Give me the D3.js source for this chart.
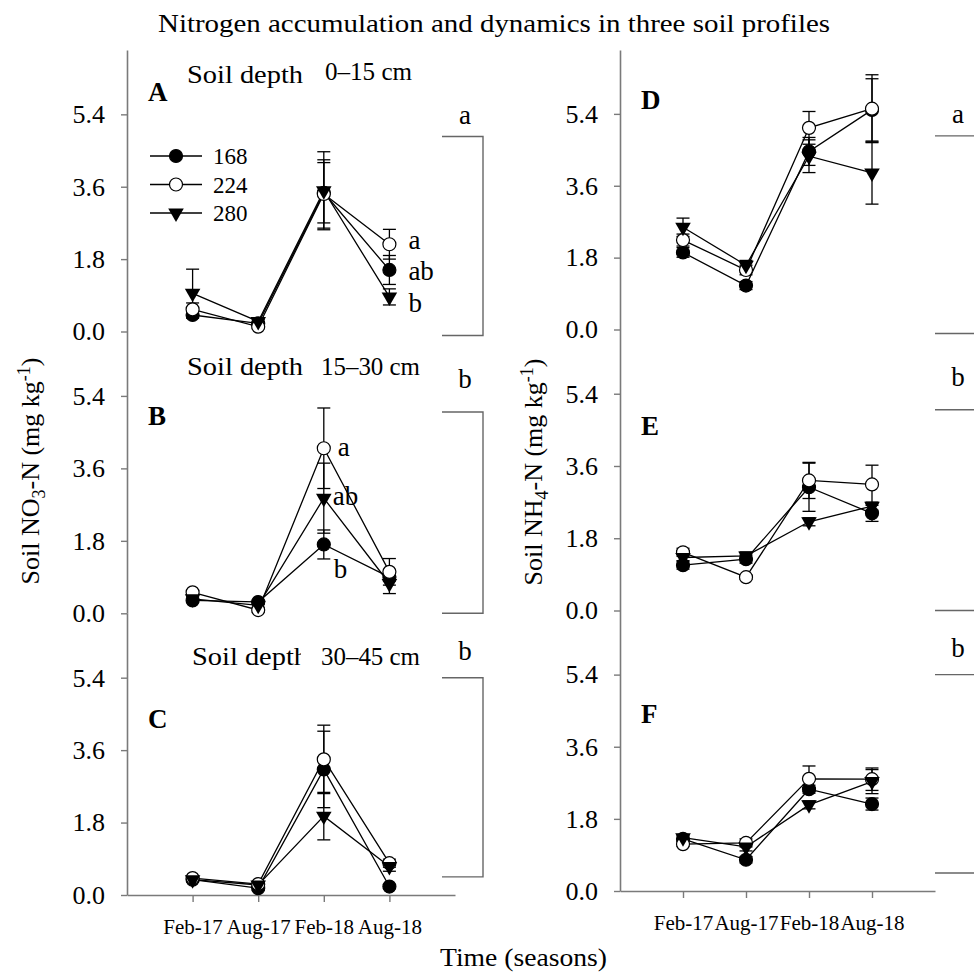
<!DOCTYPE html>
<html><head><meta charset="utf-8">
<script src="https://cdn.jsdelivr.net/npm/d3@7"></script>
<style>
html,body{margin:0;padding:0;background:#fff;}
svg{display:block;font-family:"Liberation Serif","Times New Roman",serif;}
</style></head>
<body>
<svg id="chart" width="974" height="974"></svg>
<script>
// ---------------- DATA ----------------
const categories = ["Feb-17","Aug-17","Feb-18","Aug-18"];
const seriesNames = ["168","224","280"];
const yTickValues = [0, 1.8, 3.6, 5.4];

// NO3-N panels (left column)
const A_168 = [0.41, 0.20, 3.45, 1.53], A_168_err = [0.08, 0.05, 0.75, 0.36];
const A_224 = [0.55, 0.12, 3.42, 2.17], A_224_err = [0.16, 0.05, 0.85, 0.37];
const A_280 = [0.95, 0.25, 3.50, 0.86], A_280_err = [0.60, 0.05, 0.97, 0.20];

const B_168 = [0.32, 0.28, 1.71, 0.90], B_168_err = [0.05, 0.05, 0.36, 0.10];
const B_224 = [0.52, 0.08, 4.10, 1.03], B_224_err = [0.05, 0.05, 1.00, 0.33];
const B_280 = [0.36, 0.20, 2.86, 0.74], B_280_err = [0.05, 0.05, 0.87, 0.25];

const C_168 = [0.38, 0.17, 3.12, 0.21], C_168_err = [0.05, 0.05, 0.95, 0.05];
const C_224 = [0.42, 0.27, 3.37, 0.79], C_224_err = [0.05, 0.05, 0.85, 0.10];
const C_280 = [0.38, 0.25, 1.96, 0.71], C_280_err = [0.05, 0.05, 0.59, 0.12];

// NH4-N panels (right column)
const D_168 = [1.93, 1.10, 4.46, 5.50], D_168_err = [0.12, 0.10, 0.35, 0.78];
const D_224 = [2.24, 1.49, 5.05, 5.53], D_224_err = [0.15, 0.12, 0.41, 0.85];
const D_280 = [2.56, 1.61, 4.34, 3.92], D_280_err = [0.23, 0.12, 0.41, 0.78];

const E_168 = [1.13, 1.28, 3.07, 2.42], E_168_err = [0.10, 0.10, 0.60, 0.20];
const E_224 = [1.45, 0.83, 3.24, 3.14], E_224_err = [0.10, 0.05, 0.45, 0.48];
const E_280 = [1.32, 1.36, 2.21, 2.60], E_280_err = [0.08, 0.10, 0.10, 0.10];

const F_168 = [1.30, 0.78, 2.54, 2.17], F_168_err = [0.08, 0.08, 0.10, 0.15];
const F_224 = [1.17, 1.20, 2.80, 2.79], F_224_err = [0.05, 0.10, 0.32, 0.28];
const F_280 = [1.33, 1.10, 2.15, 2.73], F_280_err = [0.08, 0.10, 0.10, 0.30];

// annotation text
const panelLetters = ["A","B","C","D","E","F"];
const depthLabels = ["0\u201315 cm","15\u201330 cm","30\u201345 cm"];
const bracketLetters = ["a","b","b"];
const bracketTop = [4.85, 5.0, 5.4];
const bracketBottom = [-0.1, 0.0, 0.45];
const bracketLetterValue = [5.17, 5.6, 5.85];
const sigA = [{t:"a", v:2.05, cat:"Aug-18"}, {t:"ab", v:1.28, cat:"Aug-18"}, {t:"b", v:0.49, cat:"Aug-18"}];
const sigB = [{t:"a", v:3.91, cat:"Feb-18", dx:14}, {t:"ab", v:2.69, cat:"Feb-18", dx:9}, {t:"b", v:0.88, cat:"Feb-18", dx:10}];

// ---------------- LAYOUT ----------------
const svg = d3.select("#chart");
const FONT = '"Liberation Serif","Times New Roman",serif';
const axisColor = "#7a7a7a";
const yMax = 7.0;

const columns = [
  { x0: 127, x1: 455, bottoms: [331.5, 613.3, 895], panels: [
      {s:[A_168,A_224,A_280], e:[A_168_err,A_224_err,A_280_err]},
      {s:[B_168,B_224,B_280], e:[B_168_err,B_224_err,B_280_err]},
      {s:[C_168,C_224,C_280], e:[C_168_err,C_224_err,C_280_err]}],
    bracketX0: 442, bracketX1: 483, bracketLetterX: 465 },
  { x0: 620, x1: 935, bottoms: [329.5, 610.5, 891], panels: [
      {s:[D_168,D_224,D_280], e:[D_168_err,D_224_err,D_280_err]},
      {s:[E_168,E_224,E_280], e:[E_168_err,E_224_err,E_280_err]},
      {s:[F_168,F_224,F_280], e:[F_168_err,F_224_err,F_280_err]}],
    bracketX0: 935, bracketX1: 990, bracketLetterX: 958 }
];

function drawMarker(g, name, cx, cy) {
  if (name === "168") {
    g.append("circle").attr("cx", cx).attr("cy", cy).attr("r", 6.5)
      .attr("fill", "#000").attr("stroke", "#000").attr("stroke-width", 1.2);
  } else if (name === "224") {
    g.append("circle").attr("cx", cx).attr("cy", cy).attr("r", 6.5)
      .attr("fill", "#fff").attr("stroke", "#000").attr("stroke-width", 1.2);
  } else {
    g.append("path").attr("d", d3.symbol().type(d3.symbolTriangle).size(105)())
      .attr("transform", `translate(${cx},${cy}) rotate(180)`)
      .attr("fill", "#000");
  }
}

columns.forEach((col, ci) => {
  const x = d3.scalePoint().domain(categories).range([col.x0, col.x1]).padding(1);
  col.panels.forEach((p, pi) => {
    const bottom = col.bottoms[pi];
    const top = pi === 0 ? 50 : col.bottoms[pi - 1];
    const y = d3.scaleLinear().domain([0, yMax]).range([bottom, top]);
    const g = svg.append("g");

    // y axis
    const ya = g.append("g").attr("transform", `translate(${col.x0},0)`)
      .call(d3.axisLeft(y).tickValues(yTickValues).tickFormat(d3.format(".1f"))
        .tickSize(6).tickSizeOuter(0).tickPadding(16));
    ya.select(".domain").attr("stroke", axisColor).attr("stroke-width", 1.6);
    ya.selectAll(".tick line").attr("stroke", axisColor).attr("stroke-width", 1.4);
    ya.selectAll(".tick text").attr("font-family", FONT).attr("font-size", 26).attr("fill", "#000");

    // x axis at bottom panel
    if (pi === 2) {
      const xa = g.append("g").attr("transform", `translate(0,${bottom})`)
        .call(d3.axisBottom(x).tickSize(7).tickSizeOuter(0).tickPadding(17));
      xa.select(".domain").attr("stroke", axisColor).attr("stroke-width", 1.6);
      xa.selectAll(".tick line").attr("stroke", axisColor).attr("stroke-width", 1.4);
      xa.selectAll(".tick text").attr("font-family", FONT).attr("font-size", 21).attr("fill", "#000");
    }

    // lines
    const line = d3.line().x((d, i) => x(categories[i])).y(d => y(d));
    p.s.forEach(vals => {
      g.append("path").datum(vals).attr("d", line)
        .attr("fill", "none").attr("stroke", "#000").attr("stroke-width", 1.3);
    });
    // error bars
    p.s.forEach((vals, si) => {
      vals.forEach((v, i) => {
        const e = p.e[si][i];
        const cx = x(categories[i]);
        g.append("line").attr("x1", cx).attr("x2", cx).attr("y1", y(v - e)).attr("y2", y(v + e))
          .attr("stroke", "#000").attr("stroke-width", 1.3);
        [v - e, v + e].forEach(w => {
          g.append("line").attr("x1", cx - 6.5).attr("x2", cx + 6.5).attr("y1", y(w)).attr("y2", y(w))
            .attr("stroke", "#000").attr("stroke-width", 1.3);
        });
      });
    });
    // markers
    p.s.forEach((vals, si) => {
      vals.forEach((v, i) => drawMarker(g, seriesNames[si], x(categories[i]), y(v)));
    });

    // panel letter
    const letterBase = [[100.7, 425, 728], [109, 435, 723]][ci][pi];
    g.append("text").attr("x", ci === 0 ? 148 : 641).attr("y", letterBase)
      .attr("font-family", FONT).attr("font-size", 27).attr("font-weight", "bold")
      .text(panelLetters[ci * 3 + pi]);

    // brackets
    const by0 = y(bracketTop[pi]), by1 = y(bracketBottom[pi]);
    g.append("path")
      .attr("d", `M${col.bracketX0},${by0}H${col.bracketX1}V${by1}H${col.bracketX0}`)
      .attr("fill", "none").attr("stroke", "#666").attr("stroke-width", 1.4);
    g.append("text").attr("x", col.bracketLetterX).attr("y", y(bracketLetterValue[pi]))
      .attr("text-anchor", "middle").attr("font-family", FONT).attr("font-size", 27)
      .text(bracketLetters[pi]);

    // depth labels (left column)
    if (ci === 0) {
      const dBase = [83, 375, 665][pi];
      g.append("text").attr("x", pi === 2 ? 192 : 187).attr("y", dBase)
        .attr("font-family", FONT).attr("font-size", 26)
        .attr("textLength", 116).attr("lengthAdjust", "spacingAndGlyphs")
        .text("Soil depth");
      if (pi === 2) {
        g.append("rect").attr("x", 301).attr("y", dBase - 24).attr("width", 16).attr("height", 32).attr("fill", "#fff");
      }
      g.append("text").attr("x", pi === 0 ? 325 : 321).attr("y", dBase - (pi === 0 ? 3 : 0))
        .attr("font-family", FONT).attr("font-size", 26)
        .attr("textLength", pi === 0 ? 87 : 99).attr("lengthAdjust", "spacingAndGlyphs")
        .text(depthLabels[pi]);
    }

    // significance letters
    const sig = ci === 0 && pi === 0 ? sigA : (ci === 0 && pi === 1 ? sigB : null);
    if (sig) {
      sig.forEach(s => {
        g.append("text").attr("x", x(s.cat) + (s.dx !== undefined ? s.dx : 19)).attr("y", y(s.v))
          .attr("font-family", FONT).attr("font-size", 27).text(s.t);
      });
    }

    // legend in panel A
    if (ci === 0 && pi === 0) {
      const ly = [156, 184.5, 213];
      seriesNames.forEach((n, si) => {
        g.append("line").attr("x1", 150).attr("x2", 202).attr("y1", ly[si]).attr("y2", ly[si])
          .attr("stroke", "#000").attr("stroke-width", 1.3);
        drawMarker(g, n, 176, ly[si]);
        g.append("text").attr("x", 213).attr("y", ly[si] + 8)
          .attr("font-family", FONT).attr("font-size", 23).text(n);
      });
    }
  });
});

// Title
svg.append("text").attr("x", 158).attr("y", 32)
  .attr("font-family", FONT).attr("font-size", 26)
  .attr("textLength", 672).attr("lengthAdjust", "spacingAndGlyphs")
  .text("Nitrogen accumulation and dynamics in three soil profiles");

// X axis title
svg.append("text").attr("x", 440).attr("y", 966)
  .attr("font-family", FONT).attr("font-size", 26)
  .attr("textLength", 167).attr("lengthAdjust", "spacingAndGlyphs")
  .text("Time (seasons)");

// Y axis titles
function yTitle(cx, cy, parts, subShift) {
  const t = svg.append("text").attr("transform", `translate(${cx},${cy}) rotate(-90)`)
    .attr("text-anchor", "middle").attr("font-family", FONT).attr("font-size", 26);
  t.append("tspan").text(parts[0]);
  t.append("tspan").attr("font-size", 18).attr("dy", subShift).text(parts[1]);
  t.append("tspan").attr("dy", -subShift).text(parts[2]);
  t.append("tspan").attr("font-size", 18).attr("dy", -9).text("-1");
  t.append("tspan").attr("dy", 9).text(")");
}
yTitle(39, 471, ["Soil NO", "3", "-N (mg kg"], 6);
yTitle(542, 472, ["Soil NH", "4", "-N (mg kg"], 6);
</script>
</body></html>
